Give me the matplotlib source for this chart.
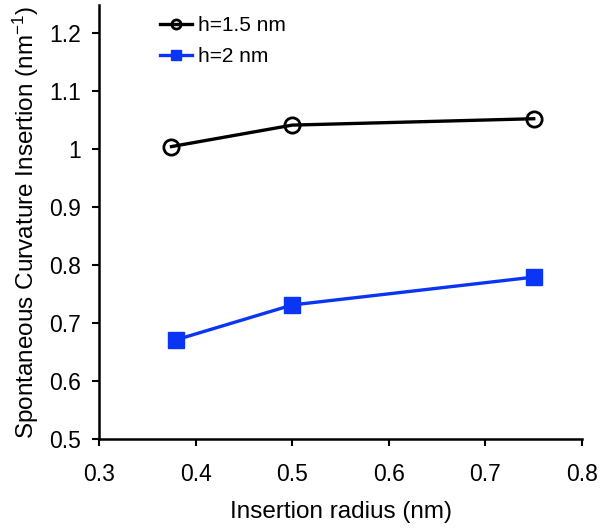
import matplotlib
matplotlib.use("Agg")
import matplotlib.pyplot as plt

plt.rcParams['font.family'] = ['Liberation Sans', 'DejaVu Sans']
plt.rcParams['mathtext.default'] = 'regular'

x_h15 = [0.375, 0.5, 0.75]
y_h15 = [1.004, 1.041, 1.052]
x_h2 = [0.38, 0.5, 0.75]
y_h2 = [0.671, 0.731, 0.779]
xticks = [0.3, 0.4, 0.5, 0.6, 0.7, 0.8]
xticklabels = ['0.3', '0.4', '0.5', '0.6', '0.7', '0.8']
yticks = [0.5, 0.6, 0.7, 0.8, 0.9, 1.0, 1.1, 1.2]
yticklabels = ['0.5', '0.6', '0.7', '0.8', '0.9', '1', '1.1', '1.2']

fig = plt.figure(figsize=(6.02, 5.28), dpi=100)
ax = fig.add_axes([0.1645, 0.1686, 0.8023, 0.8219])

ax.plot(x_h15, y_h15, color='black', lw=2.4, marker='o', ms=11,
        mfc='none', mec='black', mew=2.0, label='h=1.5 nm')
ax.plot(x_h2, y_h2, color='#0a35f5', lw=2.4, marker='s', ms=12,
        mfc='#0a35f5', mec='#0a35f5', label='h=2 nm')

ax.set_xlim(0.3, 0.8)
ax.set_ylim(0.5, 1.248)
ax.set_xticks(xticks)
ax.set_xticklabels(xticklabels)
ax.set_yticks(yticks)
ax.set_yticklabels(yticklabels)
ax.tick_params(direction='out', length=5, width=1.5, labelsize=16.5)
ax.tick_params(axis='x', pad=12)
ax.tick_params(axis='y', pad=8)
for s in ['top', 'right']:
    ax.spines[s].set_visible(False)
for s in ['left', 'bottom']:
    ax.spines[s].set_linewidth(1.8)

ax.set_xlabel('Insertion radius (nm)', fontsize=17.5, labelpad=11)
ax.set_ylabel(r'Spontaneous Curvature Insertion (nm$^{-1}$)', fontsize=17.5, labelpad=6)

ax.legend(loc='upper left', bbox_to_anchor=(0.087, 1.018), frameon=False,
          fontsize=15, handlelength=1.55, handletextpad=0.3, labelspacing=0.6,
          markerscale=0.6)

fig.savefig('out.png', dpi=100)
